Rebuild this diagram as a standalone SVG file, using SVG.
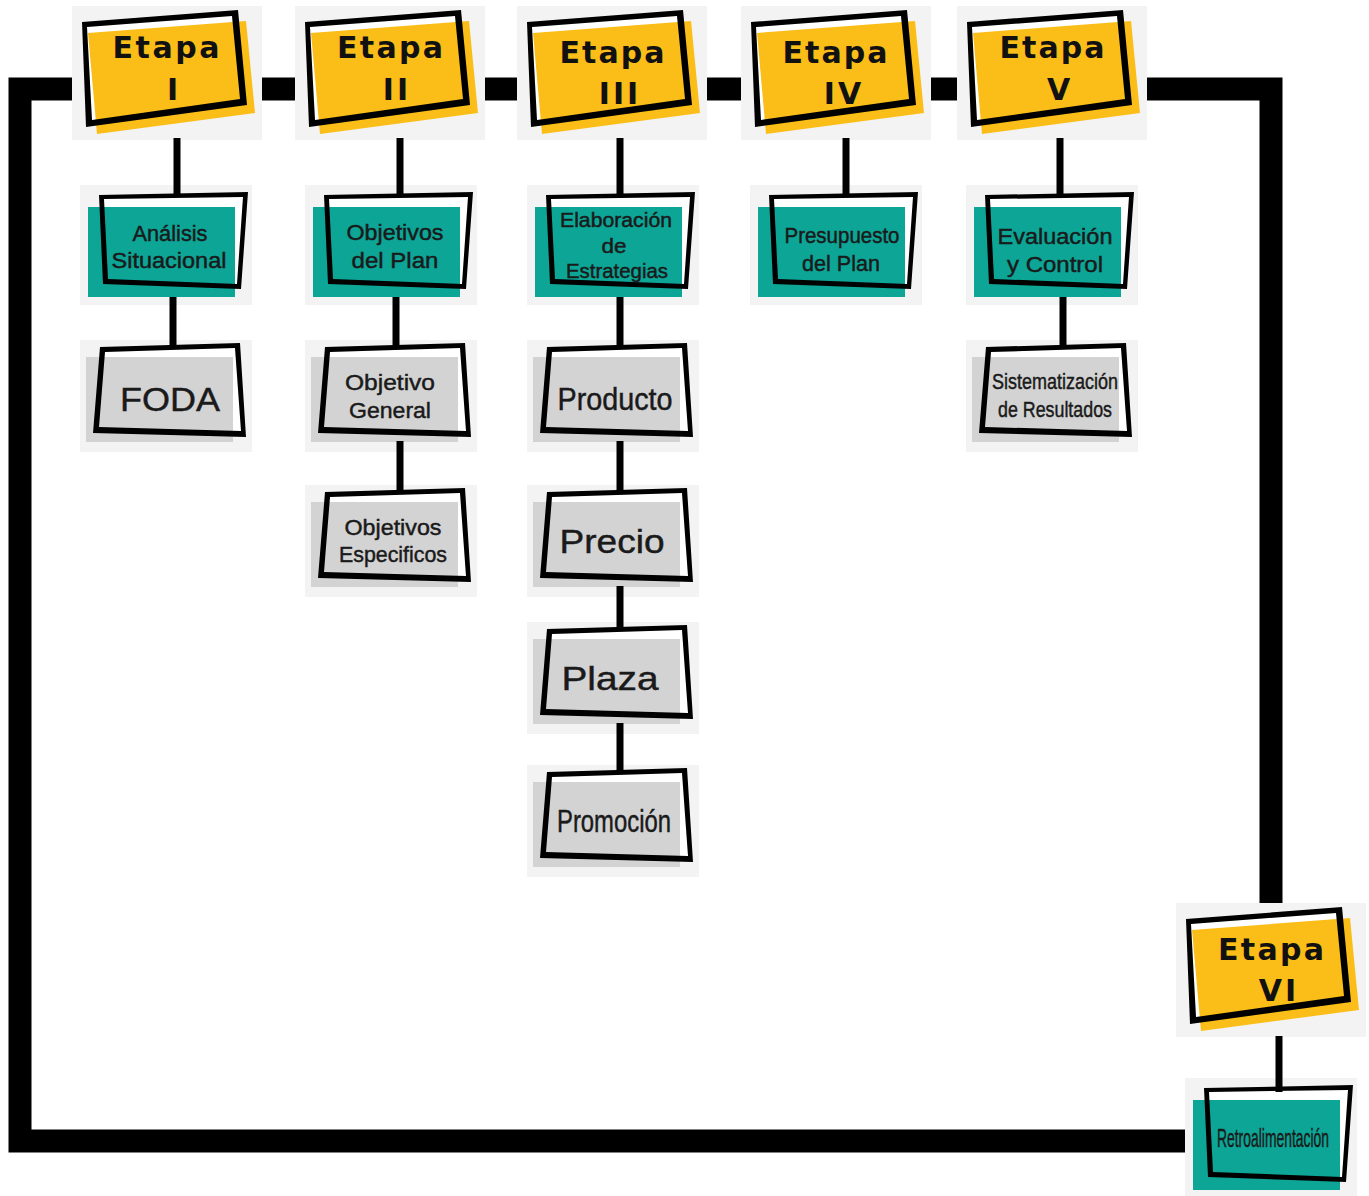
<svg xmlns="http://www.w3.org/2000/svg" xmlns:xlink="http://www.w3.org/1999/xlink" width="1369" height="1196" viewBox="0 0 1369 1196">
<style>
.et{font-family:"DejaVu Sans","Liberation Sans",sans-serif;font-weight:bold;font-size:30px;fill:#111;text-anchor:middle}
.num{letter-spacing:3px}
.lb{font-family:"Liberation Sans","Noto Sans",sans-serif;fill:#1a1a1a;stroke:#1a1a1a;stroke-width:0.45px;text-anchor:middle}
.s20{font-size:20px}
.s22{font-size:22px}
.s26{font-size:26px}
.s31{font-size:31px}
.s34{font-size:34px}
.conn{stroke:#000;stroke-width:7;fill:none}
.loop{stroke:#000;stroke-width:23;fill:none;stroke-linejoin:miter}
</style>
<defs>
<g id="etapaShape">
<rect width="190" height="134" fill="#f3f3f3"/>
<path d="M15,21 L160,10 L168,93 L20,114 Z" fill="#fff"/>
<path d="M16,27 L174,15 L183,107 L25,128 Z" fill="#fbbd18"/>
<path d="M10,16 L166,4 L175,99 L14,121 Z M15,21 L160,10 L168,93 L20,114 Z" fill="#000" fill-rule="evenodd"/>
</g>
<g id="tealShape">
<rect width="172" height="120" fill="#f3f3f3"/>
<path d="M24,14 L163,12 L157,99 L28,94 Z" fill="#fff"/>
<rect x="8" y="22" width="147" height="90" fill="#0ca596"/>
<path d="M19,10 L168,7 L161,104 L23,99 Z M24,14 L163,12 L157,99 L28,94 Z" fill="#000" fill-rule="evenodd"/>
</g>
<g id="grayShape">
<rect width="172" height="112" fill="#f3f3f3"/>
<path d="M25,12 L155,8 L161,91 L19,87 Z" fill="#fff"/>
<rect x="6" y="17" width="147" height="85" fill="#d3d3d3"/>
<path d="M20,7 L160,3 L166,97 L13,93 Z M25,12 L155,8 L161,91 L19,87 Z" fill="#000" fill-rule="evenodd"/>
</g>
</defs>
<rect width="1369" height="1196" fill="#fff"/>
<g id="loop">
<path class="loop" d="M1271,912 V89 H20 V1141 H1194"/>
</g>

<g id="etapa1" transform="translate(72,6)"><use href="#etapaShape"/><text class="et" x="94" y="52" textLength="107">Etapa</text><text class="et num" x="102" y="94">I</text></g>
<g id="etapa2" transform="translate(295,6)"><use href="#etapaShape"/><text class="et" x="95" y="52" textLength="106">Etapa</text><text class="et num" x="102" y="94">II</text></g>
<g id="etapa3" transform="translate(517,6)"><use href="#etapaShape"/><text class="et" x="95" y="57" textLength="105">Etapa</text><text class="et num" x="103" y="98">III</text></g>
<g id="etapa4" transform="translate(741,6)"><use href="#etapaShape"/><text class="et" x="94" y="57" textLength="105">Etapa</text><text class="et num" x="103" y="98">IV</text></g>
<g id="etapa5" transform="translate(957,6)"><use href="#etapaShape"/><text class="et" x="95" y="52" textLength="105">Etapa</text><text class="et num" x="103" y="94">V</text></g>
<g id="etapa6" transform="translate(1176,903)"><use href="#etapaShape"/><text class="et" x="95" y="57" textLength="106">Etapa</text><text class="et num" x="103" y="98">VI</text></g>

<g id="analisis" transform="translate(80,185)"><use href="#tealShape"/><text class="lb s22" x="90" y="56" textLength="75" lengthAdjust="spacingAndGlyphs">Análisis</text><text class="lb s22" x="89" y="83" textLength="115" lengthAdjust="spacingAndGlyphs">Situacional</text></g>
<g id="objetivosPlan" transform="translate(305,185)"><use href="#tealShape"/><text class="lb s22" x="90" y="55" textLength="97" lengthAdjust="spacingAndGlyphs">Objetivos</text><text class="lb s22" x="90" y="83" textLength="87" lengthAdjust="spacingAndGlyphs">del Plan</text></g>
<g id="elaboracion" transform="translate(527,185)"><use href="#tealShape"/><text class="lb s20" x="89" y="42" textLength="112" lengthAdjust="spacingAndGlyphs">Elaboración</text><text class="lb s20" x="87" y="68" textLength="25" lengthAdjust="spacingAndGlyphs">de</text><text class="lb s20" x="90" y="93" textLength="102" lengthAdjust="spacingAndGlyphs">Estrategias</text></g>
<g id="presupuesto" transform="translate(750,185)"><use href="#tealShape"/><text class="lb s22" x="92" y="58" textLength="115" lengthAdjust="spacingAndGlyphs">Presupuesto</text><text class="lb s22" x="91" y="86" textLength="78" lengthAdjust="spacingAndGlyphs">del Plan</text></g>
<g id="evaluacion" transform="translate(966,185)"><use href="#tealShape"/><text class="lb s22" x="89" y="59" textLength="115" lengthAdjust="spacingAndGlyphs">Evaluación</text><text class="lb s22" x="89" y="87" textLength="96" lengthAdjust="spacingAndGlyphs">y Control</text></g>
<g id="retroalimentacion" transform="translate(1185,1078)"><use href="#tealShape"/><text class="lb s26" x="88" y="69" textLength="112" lengthAdjust="spacingAndGlyphs">Retroalimentación</text></g>

<g id="foda" transform="translate(80,340)"><use href="#grayShape"/><text class="lb s34" x="90" y="71" textLength="100" lengthAdjust="spacingAndGlyphs">FODA</text></g>
<g id="objetivoGeneral" transform="translate(305,340)"><use href="#grayShape"/><text class="lb s22" x="85" y="50" textLength="90" lengthAdjust="spacingAndGlyphs">Objetivo</text><text class="lb s22" x="85" y="78" textLength="82" lengthAdjust="spacingAndGlyphs">General</text></g>
<g id="objetivosEspecificos" transform="translate(305,485)"><use href="#grayShape"/><text class="lb s22" x="88" y="50" textLength="97" lengthAdjust="spacingAndGlyphs">Objetivos</text><text class="lb s22" x="88" y="77" textLength="108" lengthAdjust="spacingAndGlyphs">Especificos</text></g>
<g id="producto" transform="translate(527,340)"><use href="#grayShape"/><text class="lb s31" x="88" y="70" textLength="115" lengthAdjust="spacingAndGlyphs">Producto</text></g>
<g id="precio" transform="translate(527,485)"><use href="#grayShape"/><text class="lb s34" x="85" y="68" textLength="105" lengthAdjust="spacingAndGlyphs">Precio</text></g>
<g id="plaza" transform="translate(527,622)"><use href="#grayShape"/><text class="lb s34" x="83" y="68" textLength="97" lengthAdjust="spacingAndGlyphs">Plaza</text></g>
<g id="promocion" transform="translate(527,765)"><use href="#grayShape"/><text class="lb s31" x="87" y="67" textLength="114" lengthAdjust="spacingAndGlyphs">Promoción</text></g>
<g id="sistematizacion" transform="translate(966,340)"><use href="#grayShape"/><text class="lb s22" x="89" y="49" textLength="126" lengthAdjust="spacingAndGlyphs">Sistematización</text><text class="lb s22" x="89" y="77" textLength="114" lengthAdjust="spacingAndGlyphs">de Resultados</text></g>

<g id="connectors">
<path class="conn" d="M177,138 V195"/>
<path class="conn" d="M400,138 V195"/>
<path class="conn" d="M620,138 V195"/>
<path class="conn" d="M846,138 V195"/>
<path class="conn" d="M1060,138 V195"/>
<path class="conn" d="M1279,1036 V1092"/>
<path class="conn" d="M173,297 V349"/>
<path class="conn" d="M396,297 V349"/>
<path class="conn" d="M620,297 V349"/>
<path class="conn" d="M1063,297 V349"/>
<path class="conn" d="M400,441 V491"/>
<path class="conn" d="M620,441 V491"/>
<path class="conn" d="M620,586 V628"/>
<path class="conn" d="M620,723 V771"/>
</g>
</svg>
